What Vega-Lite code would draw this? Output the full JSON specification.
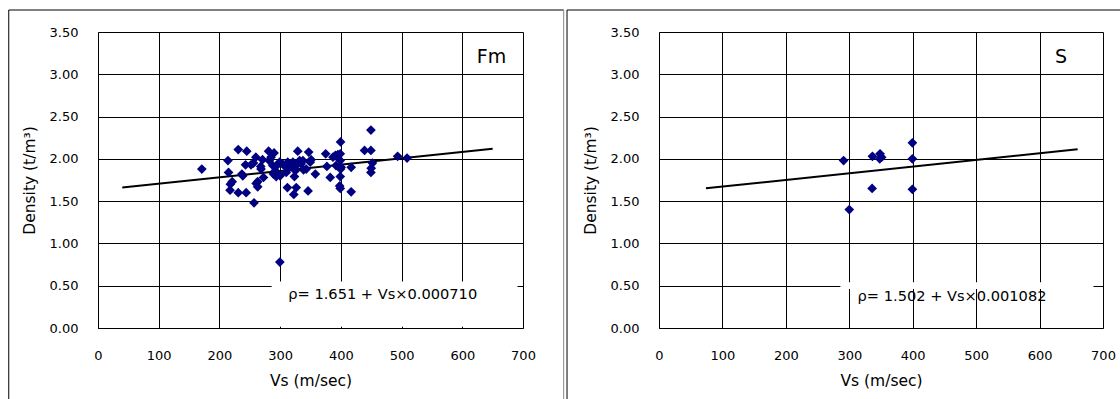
{
  "$schema": "https://vega.github.io/schema/vega-lite/v6.json",
  "padding": {"left": 8, "top": 9, "right": 0, "bottom": 0},
  "spacing": 1,
  "datasets": {
    "fm": [
      {"vs": 171, "d": 1.88}, {"vs": 214, "d": 1.98}, {"vs": 215, "d": 1.84}, {"vs": 231, "d": 2.11},
      {"vs": 245, "d": 2.09}, {"vs": 221, "d": 1.73}, {"vs": 218, "d": 1.70}, {"vs": 217.5, "d": 1.63},
      {"vs": 231, "d": 1.60}, {"vs": 244, "d": 1.60}, {"vs": 257, "d": 1.48}, {"vs": 238.5, "d": 1.80},
      {"vs": 243, "d": 1.93}, {"vs": 256, "d": 1.95}, {"vs": 260, "d": 2.02}, {"vs": 268, "d": 1.91},
      {"vs": 271, "d": 1.99}, {"vs": 263, "d": 1.73}, {"vs": 263, "d": 1.67}, {"vs": 272.5, "d": 1.78},
      {"vs": 281, "d": 2.09}, {"vs": 290, "d": 2.07}, {"vs": 282, "d": 1.98}, {"vs": 288, "d": 1.92},
      {"vs": 292, "d": 1.86}, {"vs": 299, "d": 1.96}, {"vs": 304, "d": 1.94}, {"vs": 312.5, "d": 1.96},
      {"vs": 318, "d": 1.92}, {"vs": 289, "d": 1.82}, {"vs": 300, "d": 1.80}, {"vs": 310, "d": 1.84},
      {"vs": 323.5, "d": 1.79}, {"vs": 325, "d": 1.86}, {"vs": 329, "d": 2.09}, {"vs": 332, "d": 1.98},
      {"vs": 338.5, "d": 1.87}, {"vs": 347, "d": 2.08}, {"vs": 349.5, "d": 1.96}, {"vs": 312, "d": 1.66},
      {"vs": 326.5, "d": 1.66}, {"vs": 322.5, "d": 1.58}, {"vs": 346, "d": 1.62}, {"vs": 358, "d": 1.82},
      {"vs": 375, "d": 2.06}, {"vs": 377, "d": 1.91}, {"vs": 382.5, "d": 1.78}, {"vs": 387, "d": 2.02},
      {"vs": 395, "d": 2.05}, {"vs": 399.5, "d": 2.20}, {"vs": 399, "d": 2.06}, {"vs": 399, "d": 1.98},
      {"vs": 392, "d": 1.92}, {"vs": 400.5, "d": 1.90}, {"vs": 399, "d": 1.79}, {"vs": 398, "d": 1.68},
      {"vs": 399, "d": 1.65}, {"vs": 417, "d": 1.90}, {"vs": 417, "d": 1.61}, {"vs": 439, "d": 2.10},
      {"vs": 449.5, "d": 2.34}, {"vs": 449.5, "d": 2.10}, {"vs": 452, "d": 1.95}, {"vs": 450, "d": 1.89},
      {"vs": 449.5, "d": 1.84}, {"vs": 493.5, "d": 2.03}, {"vs": 509, "d": 2.01}, {"vs": 299.5, "d": 0.78},
      {"vs": 299, "d": 1.81}, {"vs": 307, "d": 1.92}, {"vs": 294.5, "d": 1.92}, {"vs": 315.5, "d": 1.90},
      {"vs": 334.5, "d": 1.94}, {"vs": 351, "d": 1.99}, {"vs": 260.5, "d": 1.71}, {"vs": 237, "d": 1.82},
      {"vs": 252, "d": 1.93}, {"vs": 268.5, "d": 1.88}, {"vs": 285, "d": 2.02}, {"vs": 391, "d": 2.04},
      {"vs": 337.5, "d": 1.98}, {"vs": 321, "d": 1.96}, {"vs": 293.5, "d": 1.79}, {"vs": 326.5, "d": 1.92},
      {"vs": 343, "d": 1.88}, {"vs": 399.5, "d": 1.88}
    ],
    "s": [
      {"vs": 291, "d": 1.98}, {"vs": 300, "d": 1.40}, {"vs": 336, "d": 1.65}, {"vs": 336.5, "d": 2.03},
      {"vs": 348.5, "d": 2.06}, {"vs": 348, "d": 2.0}, {"vs": 351, "d": 2.02}, {"vs": 399.5, "d": 2.19},
      {"vs": 399.5, "d": 2.0}, {"vs": 399.5, "d": 1.64}
    ],
    "fmLine": [{"vs": 40, "d": 1.66}, {"vs": 650, "d": 2.12}],
    "sLine": [{"vs": 74, "d": 1.652}, {"vs": 660, "d": 2.113}],
    "one": [{}]
  },
  "hconcat": [
    {
      "width": 425,
      "height": 296,
      "layer": [
        {
          "data": {"name": "one"},
          "mark": {"type": "rect", "fill": "white", "stroke": null},
          "encoding": {
            "x": {"datum": 286, "type": "quantitative", "scale": {"domain": [0, 700], "nice": false}, "title": "Vs (m/sec)"},
            "x2": {"datum": 691},
            "y": {"datum": 0.015, "type": "quantitative", "scale": {"domain": [0, 3.5], "nice": false}, "title": "Density (t/m³)"},
            "y2": {"datum": 0.55}
          }
        },
        {
          "data": {"name": "fmLine"},
          "mark": {"type": "line", "color": "black", "strokeWidth": 2},
          "encoding": {
            "x": {"field": "vs", "type": "quantitative", "scale": {"domain": [0, 700], "nice": false}, "title": "Vs (m/sec)"},
            "y": {"field": "d", "type": "quantitative", "scale": {"domain": [0, 3.5], "nice": false}, "title": "Density (t/m³)"}
          }
        },
        {
          "data": {"name": "fm"},
          "mark": {"type": "point", "shape": "diamond", "filled": true, "color": "#000080", "size": 95, "opacity": 1},
          "encoding": {
            "x": {"field": "vs", "type": "quantitative", "scale": {"domain": [0, 700], "nice": false}, "title": "Vs (m/sec)"},
            "y": {"field": "d", "type": "quantitative", "scale": {"domain": [0, 3.5], "nice": false}, "title": "Density (t/m³)", "axis": {"format": ".2f"}}
          }
        },
        {
          "data": {"name": "one"},
          "mark": {"type": "text", "text": "ρ= 1.651 + Vs×0.000710", "font": "DejaVu Sans", "fontSize": 14.6, "align": "center", "baseline": "middle", "color": "black"},
          "encoding": {
            "x": {"datum": 469, "type": "quantitative", "scale": {"domain": [0, 700], "nice": false}, "title": "Vs (m/sec)"},
            "y": {"datum": 0.39, "type": "quantitative", "scale": {"domain": [0, 3.5], "nice": false}, "title": "Density (t/m³)"}
          }
        },
        {
          "data": {"name": "one"},
          "mark": {"type": "text", "text": "Fm", "font": "DejaVu Sans", "fontSize": 19, "align": "center", "baseline": "middle", "color": "black"},
          "encoding": {
            "x": {"datum": 648, "type": "quantitative", "scale": {"domain": [0, 700], "nice": false}, "title": "Vs (m/sec)"},
            "y": {"datum": 3.21, "type": "quantitative", "scale": {"domain": [0, 3.5], "nice": false}, "title": "Density (t/m³)"}
          }
        },
        {
          "data": {"name": "one"},
          "mark": {"type": "rule", "color": "black", "strokeWidth": 1},
          "encoding": {
            "x": {"datum": -147, "type": "quantitative", "scale": {"domain": [0, 700], "nice": false}, "title": "Vs (m/sec)"},
            "y": {"datum": 3.76, "type": "quantitative", "scale": {"domain": [0, 3.5], "nice": false}, "title": "Density (t/m³)"},
            "y2": {"datum": -1.2}
          }
        },
        {
          "data": {"name": "one"},
          "mark": {"type": "rule", "color": "black", "strokeWidth": 1},
          "encoding": {
            "x": {"datum": -147, "type": "quantitative", "scale": {"domain": [0, 700], "nice": false}, "title": "Vs (m/sec)"},
            "x2": {"datum": 767},
            "y": {"datum": 3.76, "type": "quantitative", "scale": {"domain": [0, 3.5], "nice": false}, "title": "Density (t/m³)"}
          }
        },
        {
          "data": {"name": "one"},
          "mark": {"type": "rule", "color": "#888888", "strokeWidth": 1},
          "encoding": {
            "x": {"datum": 767, "type": "quantitative", "scale": {"domain": [0, 700], "nice": false}, "title": "Vs (m/sec)"},
            "y": {"datum": 3.76, "type": "quantitative", "scale": {"domain": [0, 3.5], "nice": false}, "title": "Density (t/m³)"},
            "y2": {"datum": -1.2}
          }
        }
      ]
    },
    {
      "width": 444,
      "height": 296,
      "layer": [
        {
          "data": {"name": "one"},
          "mark": {"type": "rect", "fill": "white", "stroke": null},
          "encoding": {
            "x": {"datum": 286, "type": "quantitative", "scale": {"domain": [0, 700], "nice": false}, "title": "Vs (m/sec)"},
            "x2": {"datum": 685},
            "y": {"datum": 0.46, "type": "quantitative", "scale": {"domain": [0, 3.5], "nice": false}, "title": "Density (t/m³)"},
            "y2": {"datum": 0.54}
          }
        },
        {
          "data": {"name": "sLine"},
          "mark": {"type": "line", "color": "black", "strokeWidth": 2},
          "encoding": {
            "x": {"field": "vs", "type": "quantitative", "scale": {"domain": [0, 700], "nice": false}, "title": "Vs (m/sec)"},
            "y": {"field": "d", "type": "quantitative", "scale": {"domain": [0, 3.5], "nice": false}, "title": "Density (t/m³)"}
          }
        },
        {
          "data": {"name": "s"},
          "mark": {"type": "point", "shape": "diamond", "filled": true, "color": "#000080", "size": 95, "opacity": 1},
          "encoding": {
            "x": {"field": "vs", "type": "quantitative", "scale": {"domain": [0, 700], "nice": false}, "title": "Vs (m/sec)"},
            "y": {"field": "d", "type": "quantitative", "scale": {"domain": [0, 3.5], "nice": false}, "title": "Density (t/m³)", "axis": {"format": ".2f"}}
          }
        },
        {
          "data": {"name": "one"},
          "mark": {"type": "text", "text": "ρ= 1.502 + Vs×0.001082", "font": "DejaVu Sans", "fontSize": 14.6, "align": "center", "baseline": "middle", "color": "black"},
          "encoding": {
            "x": {"datum": 462, "type": "quantitative", "scale": {"domain": [0, 700], "nice": false}, "title": "Vs (m/sec)"},
            "y": {"datum": 0.37, "type": "quantitative", "scale": {"domain": [0, 3.5], "nice": false}, "title": "Density (t/m³)"}
          }
        },
        {
          "data": {"name": "one"},
          "mark": {"type": "text", "text": "S", "font": "DejaVu Sans", "fontSize": 19, "align": "center", "baseline": "middle", "color": "black"},
          "encoding": {
            "x": {"datum": 634, "type": "quantitative", "scale": {"domain": [0, 700], "nice": false}, "title": "Vs (m/sec)"},
            "y": {"datum": 3.2, "type": "quantitative", "scale": {"domain": [0, 3.5], "nice": false}, "title": "Density (t/m³)"}
          }
        },
        {
          "data": {"name": "one"},
          "mark": {"type": "rule", "color": "black", "strokeWidth": 1},
          "encoding": {
            "x": {"datum": -145, "type": "quantitative", "scale": {"domain": [0, 700], "nice": false}, "title": "Vs (m/sec)"},
            "y": {"datum": 3.76, "type": "quantitative", "scale": {"domain": [0, 3.5], "nice": false}, "title": "Density (t/m³)"},
            "y2": {"datum": -1.2}
          }
        },
        {
          "data": {"name": "one"},
          "mark": {"type": "rule", "color": "black", "strokeWidth": 1},
          "encoding": {
            "x": {"datum": -145, "type": "quantitative", "scale": {"domain": [0, 700], "nice": false}, "title": "Vs (m/sec)"},
            "x2": {"datum": 735},
            "y": {"datum": 3.76, "type": "quantitative", "scale": {"domain": [0, 3.5], "nice": false}, "title": "Density (t/m³)"}
          }
        }
      ]
    }
  ],
  "config": {
    "view": {"stroke": null},
    "axis": {
      "grid": true,
      "gridColor": "#000000",
      "gridOpacity": 1,
      "gridWidth": 1,
      "domain": true,
      "domainColor": "#000000",
      "ticks": false,
      "labelFlush": false,
      "labelFont": "DejaVu Sans",
      "labelFontSize": 13,
      "labelColor": "#000000",
      "titleFont": "DejaVu Sans",
      "titleFontSize": 15.5,
      "titleFontWeight": "normal",
      "titleColor": "#000000",
      "tickCount": 7
    },
    "axisY": {"labelPadding": 20, "minExtent": 50, "maxExtent": 50, "titlePadding": 11},
    "axisX": {"labelPadding": 21, "titlePadding": 11}
  }
}
